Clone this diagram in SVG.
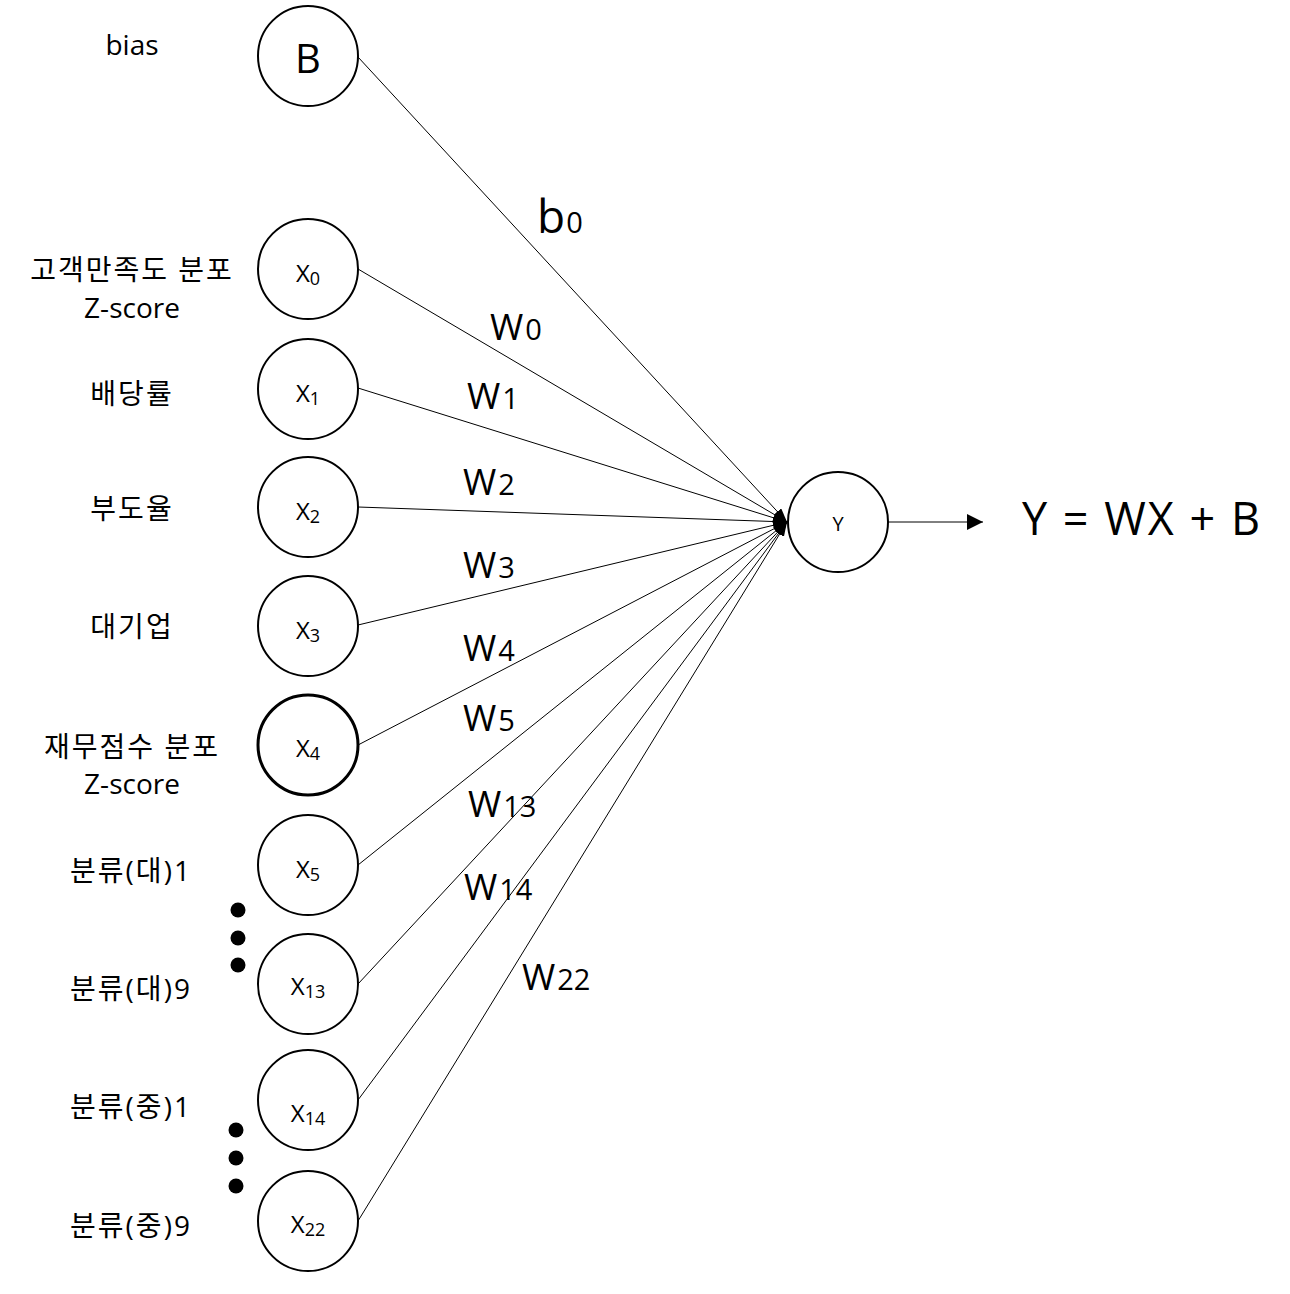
<svg xmlns="http://www.w3.org/2000/svg" width="1290" height="1294" viewBox="0 0 1290 1294">
<style>
text{font-family:"Open Sans","Noto Sans","Noto Sans CJK KR",sans-serif;fill:#000}
.lbl{font-size:28px;text-anchor:middle}
.ko{letter-spacing:2px}
.node circle{fill:#fff;stroke:#000;stroke-width:2}
.nt{font-size:24px;text-anchor:middle}
.sub{font-size:18px}
.w{font-size:36px}
.ws{font-size:29px}
.conn line{stroke:#000;stroke-width:1}
.dot{fill:#000}
</style>
<defs>
<marker id="ah" viewBox="0 0 14 10" refX="14" refY="5" markerWidth="14" markerHeight="10" markerUnits="userSpaceOnUse" orient="auto">
<path d="M0,0 L14,5 L0,10 Z" fill="#000"/>
</marker>
<marker id="ah2" viewBox="0 0 16 16" refX="16" refY="8" markerWidth="16" markerHeight="16" markerUnits="userSpaceOnUse" orient="auto">
<path d="M0,0 L16,8 L0,16 Z" fill="#000"/>
</marker>
</defs>
<rect width="1290" height="1294" fill="#fff"/>

<g id="labels">
<text class="lbl" x="132" y="55">bias</text>
<text class="lbl ko" x="132" y="280">고객만족도 분포</text>
<text class="lbl" x="132" y="318">Z-score</text>
<text class="lbl ko" x="132" y="404">배당률</text>
<text class="lbl ko" x="132" y="519">부도율</text>
<text class="lbl ko" x="132" y="637">대기업</text>
<text class="lbl ko" x="132" y="757">재무점수 분포</text>
<text class="lbl" x="132" y="794">Z-score</text>
<text class="lbl ko" x="131" y="881">분류(대)1</text>
<text class="lbl ko" x="131" y="999">분류(대)9</text>
<text class="lbl ko" x="131" y="1117">분류(중)1</text>
<text class="lbl ko" x="131" y="1236">분류(중)9</text>
</g>

<g id="dots">
<circle class="dot" cx="238" cy="910" r="7.5"/>
<circle class="dot" cx="238" cy="938" r="7.5"/>
<circle class="dot" cx="238" cy="965" r="7.5"/>
<circle class="dot" cx="236" cy="1130" r="7.5"/>
<circle class="dot" cx="236" cy="1158" r="7.5"/>
<circle class="dot" cx="236" cy="1186" r="7.5"/>
</g>

<g id="connectors" class="conn">
<line x1="358" y1="57" x2="787" y2="522" marker-end="url(#ah)"/>
<line x1="358" y1="269" x2="787" y2="522" marker-end="url(#ah)"/>
<line x1="358" y1="388" x2="787" y2="522" marker-end="url(#ah)"/>
<line x1="358" y1="507" x2="787" y2="522" marker-end="url(#ah)"/>
<line x1="358" y1="625" x2="787" y2="522" marker-end="url(#ah)"/>
<line x1="358" y1="745" x2="787" y2="522" marker-end="url(#ah)"/>
<line x1="358" y1="865" x2="787" y2="522" marker-end="url(#ah)"/>
<line x1="358" y1="984" x2="787" y2="522" marker-end="url(#ah)"/>
<line x1="358" y1="1100" x2="787" y2="522" marker-end="url(#ah)"/>
<line x1="358" y1="1221" x2="787" y2="522" marker-end="url(#ah)"/>
<line x1="888" y1="522" x2="983" y2="522" marker-end="url(#ah2)"/>
</g>

<g id="weights">
<text x="537" y="233" style="font-size:46px">b<tspan style="font-size:29px" dx="1">0</tspan></text>
<text class="w" x="490" y="340">W<tspan class="ws" dx="2">0</tspan></text>
<text class="w" x="467" y="409">W<tspan class="ws" dx="2">1</tspan></text>
<text class="w" x="463" y="495">W<tspan class="ws" dx="2">2</tspan></text>
<text class="w" x="463" y="578">W<tspan class="ws" dx="2">3</tspan></text>
<text class="w" x="463" y="661">W<tspan class="ws" dx="2">4</tspan></text>
<text class="w" x="463" y="731">W<tspan class="ws" dx="2">5</tspan></text>
<text class="w" x="468" y="817">W<tspan class="ws" dx="2">13</tspan></text>
<text class="w" x="464" y="900">W<tspan class="ws" dx="2">14</tspan></text>
<text class="w" x="522" y="990">W<tspan class="ws" dx="2">22</tspan></text>
</g>

<g id="node-B" class="node">
<circle cx="308" cy="56" r="50"/>
<text x="308" y="73" style="font-size:40px;text-anchor:middle">B</text>
</g>
<g id="node-x0" class="node">
<circle cx="308" cy="269" r="50"/>
<text class="nt" x="308" y="282">X<tspan class="sub" dy="3">0</tspan></text>
</g>
<g id="node-x1" class="node">
<circle cx="308" cy="389" r="50"/>
<text class="nt" x="308" y="402">X<tspan class="sub" dy="3">1</tspan></text>
</g>
<g id="node-x2" class="node">
<circle cx="308" cy="507" r="50"/>
<text class="nt" x="308" y="520">X<tspan class="sub" dy="3">2</tspan></text>
</g>
<g id="node-x3" class="node">
<circle cx="308" cy="626" r="50"/>
<text class="nt" x="308" y="639">X<tspan class="sub" dy="3">3</tspan></text>
</g>
<g id="node-x4" class="node">
<circle cx="308" cy="745" r="50" style="stroke-width:3"/>
<text class="nt" x="308" y="757">X<tspan class="sub" dy="3">4</tspan></text>
</g>
<g id="node-x5" class="node">
<circle cx="308" cy="865" r="50"/>
<text class="nt" x="308" y="878">X<tspan class="sub" dy="3">5</tspan></text>
</g>
<g id="node-x13" class="node">
<circle cx="308" cy="984" r="50"/>
<text class="nt" x="308" y="995">X<tspan class="sub" dy="3">13</tspan></text>
</g>
<g id="node-x14" class="node">
<circle cx="308" cy="1100" r="50"/>
<text class="nt" x="308" y="1122">X<tspan class="sub" dy="3">14</tspan></text>
</g>
<g id="node-x22" class="node">
<circle cx="308" cy="1221" r="50"/>
<text class="nt" x="308" y="1233">X<tspan class="sub" dy="3">22</tspan></text>
</g>
<g id="node-Y" class="node">
<circle cx="838" cy="522" r="50"/>
<text x="838" y="531" style="font-size:20px;text-anchor:middle">Y</text>
</g>

<g id="equation">
<text x="1022" y="535" style="font-size:45px;letter-spacing:2px">Y = WX + B</text>
</g>
</svg>
